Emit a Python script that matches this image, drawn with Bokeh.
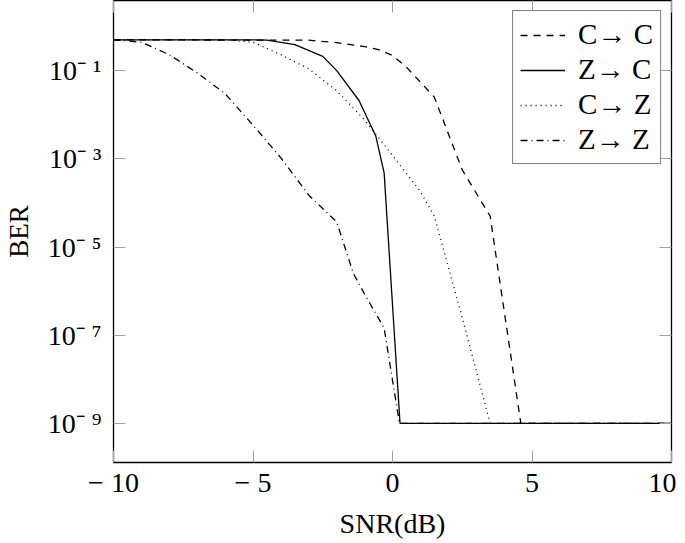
from bokeh.plotting import figure
from bokeh.models import (FixedTicker, LinearAxis, LogAxis, Legend, LegendItem, Range1d)
from bokeh.embed import file_html
from bokeh.resources import INLINE

# ---- data ----
snr_cc = [-10, -3, -2, -1, -0.5, 0, 0.5, 1.5, 2.5, 3.5, 4.6, 10]
ber_cc = [0.5, 0.49, 0.43, 0.35, 0.30, 0.22, 0.12, 0.025, 5.6e-4, 5e-5, 1e-9, 1e-9]

snr_zc = [-10, -5, -4.5, -3.5, -2.5, -2, -1.2, -0.6, -0.3, 0.27, 10]
ber_zc = [0.5, 0.5, 0.49, 0.39, 0.21, 0.1, 0.021, 0.0033, 4.8e-4, 1e-9, 1e-9]

snr_cz = [-10, -6, -5, -4, -3, -2, -1, 0, 1, 1.5, 2.5, 3.5, 10]
ber_cz = [0.5, 0.5, 0.44, 0.23, 0.11, 0.035, 7.6e-3, 1.2e-3, 1.8e-4, 5e-5, 2.5e-7, 1e-9, 1e-9]

snr_zz = [-10, -9, -8, -7, -6, -5, -4, -3, -2, -1.4, -1, -0.3, 0.25, 10]
ber_zz = [0.5, 0.44, 0.23, 0.089, 0.03, 5.8e-3, 1.05e-3, 1.5e-4, 3.7e-5, 2.5e-6, 8.5e-7, 1.45e-7, 1e-9, 1e-9]

series_labels = ["C\u2192 C", "Z\u2192 C", "C\u2192 Z", "Z\u2192 Z"]

x_ticks = [-10, -5, 0, 5, 10]
x_tick_labels = ["\u2212 10", "\u2212 5", "0", "5", "10"]
y_ticks = [1e-1, 1e-3, 1e-5, 1e-7, 1e-9]
y_tick_labels = ["10\u207b \u00b9", "10\u207b \u00b3", "10\u207b \u2075", "10\u207b \u2077", "10\u207b \u2079"]

FONT = "Liberation Serif"
TICK_COLOR = "#a0a0a0"

p = figure(width=676, height=541, output_backend="svg", toolbar_location=None,
           x_range=Range1d(-10, 10), y_range=Range1d(10 ** -9.886, 10 ** 0.59),
           y_axis_type="log", min_border_left=112, min_border_right=5,
           min_border_top=0, min_border_bottom=79)
p.background_fill_color = "white"
p.border_fill_color = "white"
p.outline_line_color = "black"
p.outline_line_width = 1.3
p.xgrid.visible = False
p.ygrid.visible = False

lw = 1.3
r1 = p.line(snr_cc, ber_cc, line_color="black", line_width=lw, line_dash="7 6")
r2 = p.line(snr_zc, ber_zc, line_color="black", line_width=lw)
r3 = p.line(snr_cz, ber_cz, line_color="black", line_width=lw, line_dash="1 4")
r4 = p.line(snr_zz, ber_zz, line_color="black", line_width=lw, line_dash="7 4 1 4")

def style_axis(ax):
    ax.axis_line_color = None
    ax.major_tick_line_color = TICK_COLOR
    ax.major_tick_line_width = 1
    ax.major_tick_in = 12
    ax.major_tick_out = 0
    ax.minor_tick_line_color = None
    ax.major_label_text_font = FONT
    ax.major_label_text_color = "black"
    ax.major_label_text_font_size = "28px"

xa = p.xaxis[0]
xa.ticker = FixedTicker(ticks=x_ticks)
xa.major_label_overrides = {t: l for t, l in zip(x_ticks, x_tick_labels)}
style_axis(xa)
xa.major_label_standoff = 4
xa.axis_label = "SNR(dB)"
xa.axis_label_text_font = FONT
xa.axis_label_text_font_size = "28px"
xa.axis_label_text_font_style = "normal"
xa.axis_label_text_color = "black"
xa.axis_label_standoff = 7

ya = p.yaxis[0]
ya.ticker = FixedTicker(ticks=y_ticks)
ya.major_label_overrides = {t: l for t, l in zip(y_ticks, y_tick_labels)}
style_axis(ya)
ya.major_label_standoff = 12
ya.axis_label = "BER"
ya.axis_label_text_font = FONT
ya.axis_label_text_font_size = "27px"
ya.axis_label_text_font_style = "normal"
ya.axis_label_text_color = "black"
ya.axis_label_standoff = 11

# mirrored tick marks on top and right (no labels)
top_ax = LinearAxis(ticker=FixedTicker(ticks=x_ticks))
style_axis(top_ax)
top_ax.major_label_text_font_size = "1px"
top_ax.major_label_text_color = None
top_ax.major_label_standoff = 0
p.add_layout(top_ax, "above")
right_ax = LogAxis(ticker=FixedTicker(ticks=y_ticks))
style_axis(right_ax)
right_ax.major_label_text_font_size = "1px"
right_ax.major_label_text_color = None
right_ax.major_label_standoff = 0
p.add_layout(right_ax, "right")

legend = Legend(items=[LegendItem(label=series_labels[0], renderers=[r1]),
                       LegendItem(label=series_labels[1], renderers=[r2]),
                       LegendItem(label=series_labels[2], renderers=[r3]),
                       LegendItem(label=series_labels[3], renderers=[r4])],
                location="top_right")
legend.label_text_font = FONT
legend.label_text_font_size = "29px"
legend.label_text_color = "black"
legend.glyph_width = 45
legend.glyph_height = 28
legend.label_height = 28
legend.label_standoff = 13
legend.spacing = 2
legend.padding = 7
legend.margin = 10
legend.border_line_color = "black"
legend.border_line_width = 1.3
legend.background_fill_color = "white"
legend.background_fill_alpha = 1
p.add_layout(legend)

open("out.html", "w").write(file_html(p, INLINE))
